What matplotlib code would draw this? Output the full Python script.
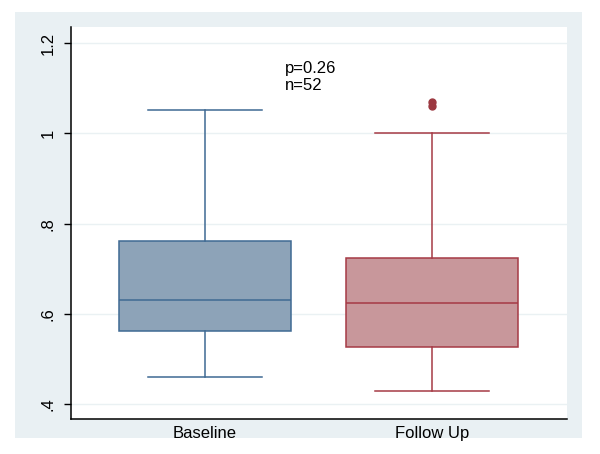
import matplotlib.pyplot as plt
from matplotlib.patches import Rectangle

plt.rcParams["font.family"] = ["Liberation Sans", "DejaVu Sans"]

groups = ["Baseline", "Follow Up"]
whislo = [0.459, 0.429]
q1 = [0.563, 0.527]
med = [0.630, 0.625]
q3 = [0.762, 0.725]
whishi = [1.053, 1.002]
fliers = [[], [1.061, 1.070]]

fills = ["#8da3b8", "#c8979b"]
edges = ["#3f6a93", "#a63a45"]

fig = plt.figure(figsize=(6.0, 4.54), dpi=100)
fig.add_artist(Rectangle((0.025, 0.0352), 0.945, 0.9384, transform=fig.transFigure,
                         facecolor="#e9f0f3", edgecolor="none", zorder=-1))
ax = fig.add_axes([0.1183, 0.0771, 0.8267, 0.8634])
ax.set_facecolor("white")

for i, g in enumerate(groups):
    stats = [dict(label=g, whislo=whislo[i], q1=q1[i], med=med[i], q3=q3[i],
                  whishi=whishi[i], fliers=fliers[i])]
    ax.bxp(stats, positions=[i + 1], widths=0.758, patch_artist=True, showcaps=True,
           boxprops=dict(facecolor=fills[i], edgecolor=edges[i], linewidth=1.1),
           medianprops=dict(color=edges[i], linewidth=1.1),
           whiskerprops=dict(color=edges[i], linewidth=1.1),
           capprops=dict(color=edges[i], linewidth=1.1),
           capwidths=0.5,
           flierprops=dict(marker="o", markersize=5, markerfacecolor="#9c3840",
                           markeredgecolor="#9c3840"))

ax.set_xlim(0.41, 2.595)
ax.set_ylim(0.367, 1.236)
ax.set_yticks([0.4, 0.6, 0.8, 1.0, 1.2])
ax.set_yticklabels([".4", ".6", ".8", "1", "1.2"], rotation=90, va="center", fontsize=12)
ax.set_xticks([1, 2])
ax.set_xticklabels(groups, fontsize=12)
ax.tick_params(axis="x", length=0, pad=5)
ax.tick_params(axis="y", length=5, width=1, pad=6)
ax.yaxis.grid(True, color="#eaf1f3", linewidth=1)
ax.set_axisbelow(True)
for s in ["top", "right"]:
    ax.spines[s].set_visible(False)
for s in ["left", "bottom"]:
    ax.spines[s].set_linewidth(1.1)

ax.text(1.353, 1.16, "p=0.26\nn=52", fontsize=12, va="top", ha="left", linespacing=1.15)

fig.savefig("out.png", dpi=100)
